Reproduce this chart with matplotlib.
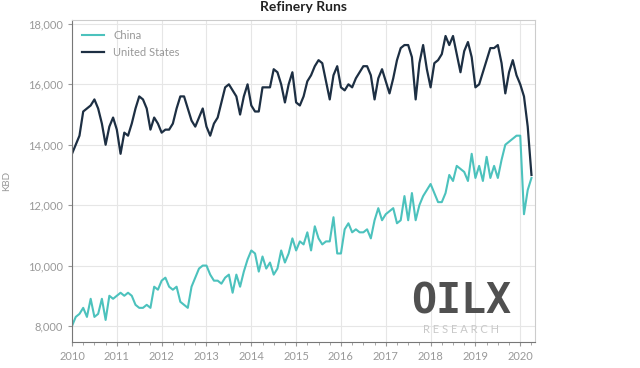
import numpy as np
import matplotlib.pyplot as plt
from matplotlib.ticker import FuncFormatter, MultipleLocator

# monthly refinery runs, KBD, Jan 2010 .. Apr 2020
china = [
    8000, 8300, 8400, 8600, 8300, 8900, 8300, 8400, 8900, 8200, 9000, 8900,
    9000, 9100, 9000, 9100, 9000, 8700, 8600, 8600, 8700, 8600, 9300, 9200,
    9500, 9600, 9300, 9200, 9300, 8800, 8700, 8600, 9300, 9600, 9900, 10000,
    10000, 9700, 9500, 9500, 9400, 9600, 9700, 9100, 9700, 9300, 9800, 10200,
    10500, 10400, 9800, 10300, 9900, 10100, 9700, 9900, 10500, 10100, 10400, 10900,
    10500, 10800, 10700, 11100, 10500, 11300, 10900, 10700, 10800, 10800, 11600, 10400,
    10400, 11200, 11400, 11100, 11200, 11100, 11100, 11200, 10900, 11500, 11900, 11500,
    11700, 11800, 11900, 11400, 11500, 12300, 11500, 12400, 11500, 12000, 12300, 12500,
    12700, 12400, 12100, 12100, 12400, 13000, 12800, 13300, 13200, 13100, 12800, 13700,
    12900, 13300, 12800, 13600, 12900, 13300, 12900, 13500, 14000, 14100, 14200, 14300,
    14300, 11700, 12500, 12900,
]
united_states = [
    13700, 14000, 14300, 15100, 15200, 15300, 15500, 15200, 14700, 14000, 14600, 14900,
    14500, 13700, 14400, 14300, 14700, 15200, 15600, 15500, 15200, 14500, 14900, 14700,
    14400, 14500, 14500, 14700, 15200, 15600, 15600, 15200, 14800, 14600, 14900, 15200,
    14600, 14300, 14700, 14900, 15400, 15900, 16000, 15800, 15600, 15000, 15600, 16000,
    15300, 15100, 15100, 15900, 15900, 15900, 16500, 16400, 16000, 15400, 16000, 16400,
    15400, 15300, 15600, 16100, 16300, 16600, 16800, 16700, 16100, 15500, 16300, 16600,
    15900, 15800, 16000, 15900, 16200, 16400, 16600, 16600, 16300, 15500, 16200, 16500,
    16100, 15700, 16200, 16800, 17200, 17300, 17300, 16900, 15500, 16700, 17300, 16500,
    15900, 16700, 16800, 17000, 17600, 17300, 17600, 17000, 16400, 17100, 17400, 16900,
    15900, 16000, 16400, 16800, 17200, 17200, 17300, 16700, 15700, 16400, 16800, 16300,
    16000, 15600, 14600, 13000,
]
years = [2010, 2011, 2012, 2013, 2014, 2015, 2016, 2017, 2018, 2019, 2020]

t = 2010 + np.arange(len(china)) / 12.0

plt.rcParams['font.family'] = ['Lato', 'DejaVu Sans']

fig = plt.figure(figsize=(6.4, 3.68), dpi=100)
ax = fig.add_axes([0.1125, 0.0707, 0.7235, 0.875])

ax.plot(t, china, color='#4cc2bd', lw=1.5, label='China')
ax.plot(t, united_states, color='#1d2f43', lw=1.6, label='United States')

ax.set_xlim(2010, 2020.33)
ax.set_ylim(7470, 18130)
ax.set_xticks(years)
ax.xaxis.set_minor_locator(MultipleLocator(0.25))
ax.set_yticks([8000, 10000, 12000, 14000, 16000, 18000])
ax.yaxis.set_major_formatter(FuncFormatter(lambda v, p: f'{int(v):,}'))
ax.grid(True, color='#e6e6e6', lw=0.8)
ax.set_axisbelow(True)

for s in ['top', 'right']:
    ax.spines[s].set_color('#cccccc')
for s in ['left', 'bottom']:
    ax.spines[s].set_color('#777777')
ax.tick_params(axis='both', which='major', colors='#999999', labelsize=8, length=3)
ax.tick_params(axis='x', which='minor', colors='#999999', length=2)
ax.set_ylabel('KBD', color='#999999', fontsize=7, labelpad=12)

leg = ax.legend(loc='upper left', frameon=False, fontsize=8, handlelength=2.0)
for txt in leg.get_texts():
    txt.set_color('#999999')

fig.text(0.474, 0.982, 'Refinery Runs', ha='center', va='center',
         fontsize=10, fontweight='bold', color='#222222')

# watermark
ax.text(0.84, 0.125, 'OILX', transform=ax.transAxes, ha='center', va='center',
        fontsize=30, fontweight='bold', color='#505050', family='DejaVu Sans Mono')
ax.text(0.84, 0.04, 'R E S E A R C H', transform=ax.transAxes, ha='center', va='center',
        fontsize=8, color='#c8c8c8')

fig.savefig('out.png', dpi=100)
